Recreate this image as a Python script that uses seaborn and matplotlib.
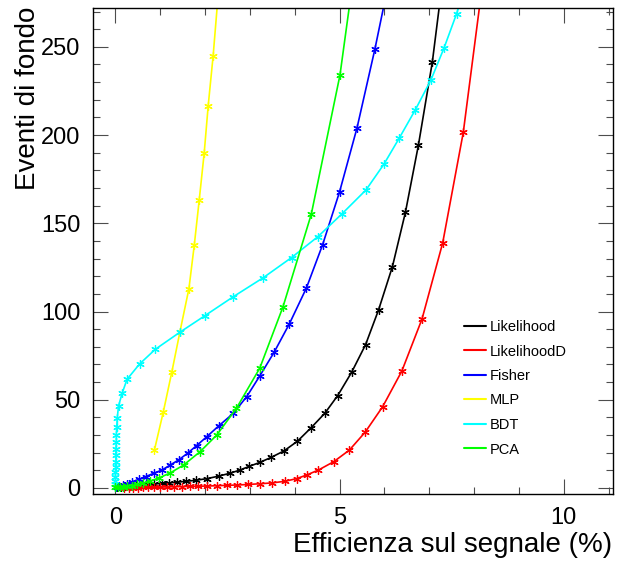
import matplotlib
matplotlib.use("Agg")
import matplotlib.pyplot as plt
from matplotlib.lines import Line2D
from matplotlib.ticker import MultipleLocator
import seaborn as sns

# ---- data ----
series_names = ["Likelihood", "LikelihoodD", "Fisher", "MLP", "BDT", "PCA"]
series_colors = ["#000000", "#ff0000", "#0000ff", "#ffff00", "#00ffff", "#00ff00"]

likelihood_x = [0.04, 0.12, 0.22, 0.33, 0.45, 0.58, 0.72, 0.87, 1.03, 1.20, 1.38, 1.58, 1.80,
                2.04, 2.30, 2.56, 2.78, 2.98, 3.22, 3.47, 3.76, 4.06, 4.36, 4.67, 4.96, 5.27,
                5.58, 5.87, 6.18, 6.47, 6.76, 7.07, 7.30]
likelihood_y = [0.3, 0.6, 0.9, 1.2, 1.5, 1.8, 2.0, 2.3, 2.6, 2.9, 3.3, 3.8, 4.4,
                5.3, 6.7, 8.4, 10.2, 12.2, 14.5, 17.3, 21.0, 26.5, 34.0, 42.3, 52.4, 65.6,
                81.2, 100.9, 125.5, 156.3, 194.4, 241.4, 288.0]

likelihoodD_x = [0.20, 0.30, 0.40, 0.50, 0.61, 0.73, 0.86, 1.00, 1.15, 1.31, 1.48, 1.66, 1.85,
                 2.05, 2.26, 2.48, 2.72, 2.96, 3.22, 3.50, 3.78, 4.04, 4.27, 4.53, 4.87, 5.22,
                 5.57, 5.96, 6.39, 6.84, 7.30, 7.76, 8.20]
likelihoodD_y = [0.1, 0.1, 0.2, 0.2, 0.3, 0.3, 0.4, 0.5, 0.6, 0.7, 0.8, 0.9, 1.0,
                 1.1, 1.3, 1.5, 1.7, 2.0, 2.4, 2.9, 3.8, 5.3, 7.4, 10.2, 14.9, 21.5,
                 31.6, 46.0, 66.3, 95.8, 138.8, 201.5, 288.0]

fisher_x = [0.02, 0.08, 0.16, 0.26, 0.38, 0.52, 0.68, 0.85, 1.04, 1.22, 1.41, 1.61, 1.81,
            2.04, 2.30, 2.63, 2.93, 3.22, 3.54, 3.88, 4.26, 4.62, 5.00, 5.39, 5.79, 6.10]
fisher_y = [0.6, 1.0, 1.6, 2.5, 3.6, 4.9, 6.5, 8.3, 10.2, 13.0, 15.9, 19.7, 24.0,
            29.1, 35.1, 42.3, 51.8, 63.5, 76.9, 93.0, 113.3, 137.7, 167.8, 204.1, 248.9, 287.0]

mlp_x = [0.87, 1.07, 1.26, 1.44, 1.64, 1.76, 1.87, 1.98, 2.07, 2.18, 2.31]
mlp_y = [21.5, 43.3, 65.9, 88.6, 113.0, 137.8, 163.3, 189.7, 216.7, 244.9, 285.0]

bdt_x = [0.0, 0.0, 0.0, 0.0, 0.0, 0.01, 0.01, 0.01, 0.01, 0.02, 0.02, 0.03, 0.04, 0.07,
         0.15, 0.26, 0.54, 0.89, 1.44, 2.00, 2.63, 3.30, 3.93, 4.52, 5.06, 5.59, 5.99,
         6.33, 6.69, 7.04, 7.33, 7.61, 7.80]
bdt_y = [0.5, 2.0, 4.0, 6.5, 9.0, 12.0, 15.0, 18.5, 22.0, 26.0, 30.0, 34.5, 39.5, 46.5,
         53.7, 61.6, 70.3, 78.6, 88.3, 97.7, 108.4, 119.2, 130.6, 142.5, 155.5, 168.9, 183.5,
         198.2, 214.3, 231.3, 249.3, 268.7, 284.0]

pca_x = [0.0, 0.05, 0.11, 0.18, 0.26, 0.36, 0.48, 0.62, 0.78, 0.98, 1.22, 1.52, 1.89,
         2.26, 2.70, 3.22, 3.74, 4.37, 5.01, 5.30]
pca_y = [0.3, 0.4, 0.5, 0.7, 1.0, 1.4, 2.0, 2.8, 4.0, 5.8, 8.5, 13.0, 20.6,
         30.0, 45.2, 67.9, 102.8, 155.2, 234.1, 288.0]

x_ticks = [0, 5, 10]
y_ticks = [0, 50, 100, 150, 200, 250]
x_label = "Efficienza sul segnale (%)"
y_label = "Eventi di fondo"

series_x = [likelihood_x, likelihoodD_x, fisher_x, mlp_x, bdt_x, pca_x]
series_y = [likelihood_y, likelihoodD_y, fisher_y, mlp_y, bdt_y, pca_y]

# ---- style ----
sns.set_style("ticks")
plt.rcParams["font.family"] = ["Liberation Sans", "DejaVu Sans"]
plt.rcParams["text.color"] = "black"
plt.rcParams["axes.labelcolor"] = "black"

fig = plt.figure(figsize=(6.18, 5.61), dpi=100)
ax = fig.add_axes([93 / 618, (561 - 494) / 561, 520 / 618, 486 / 561])

asterisk = (6, 2, 0)
for name, col, xs, ys in zip(series_names, series_colors, series_x, series_y):
    sns.lineplot(x=xs, y=ys, ax=ax, color=col, sort=False, estimator=None,
                 linewidth=1.2, marker=asterisk, markersize=6,
                 markeredgecolor=col, markeredgewidth=0.9, legend=False)

ax.set_xlim(-0.5, 11.1)
ax.set_ylim(-3.4, 272)
ax.set_xticks(x_ticks)
ax.set_yticks(y_ticks)
ax.xaxis.set_minor_locator(MultipleLocator(1))
ax.yaxis.set_minor_locator(MultipleLocator(10))
ax.tick_params(which="both", direction="in", top=True, right=True,
               color="0.3", width=0.8, labelsize=17, labelcolor="black")
ax.tick_params(which="major", length=11, pad=9)
ax.tick_params(which="minor", length=5)
for s in ax.spines.values():
    s.set_linewidth(1.0)
    s.set_color("black")

ax.set_xlabel(x_label, fontsize=20, ha="right", va="center")
ax.xaxis.set_label_coords(0.998, -0.105)
ax.set_ylabel(y_label, fontsize=20, ha="right", va="center")
ax.yaxis.set_label_coords(-0.125, 1.002)

handles = [Line2D([], [], color=c, lw=1.5) for c in series_colors]
ax.legend(handles, series_names, loc="upper left", frameon=False,
          bbox_to_anchor=(464 / 618, 1 - 320 / 561), bbox_transform=fig.transFigure,
          borderpad=0, borderaxespad=0, fontsize=10.5, handlelength=1.5,
          handletextpad=0.25, labelspacing=0.72)

fig.savefig("out.png", dpi=100)
